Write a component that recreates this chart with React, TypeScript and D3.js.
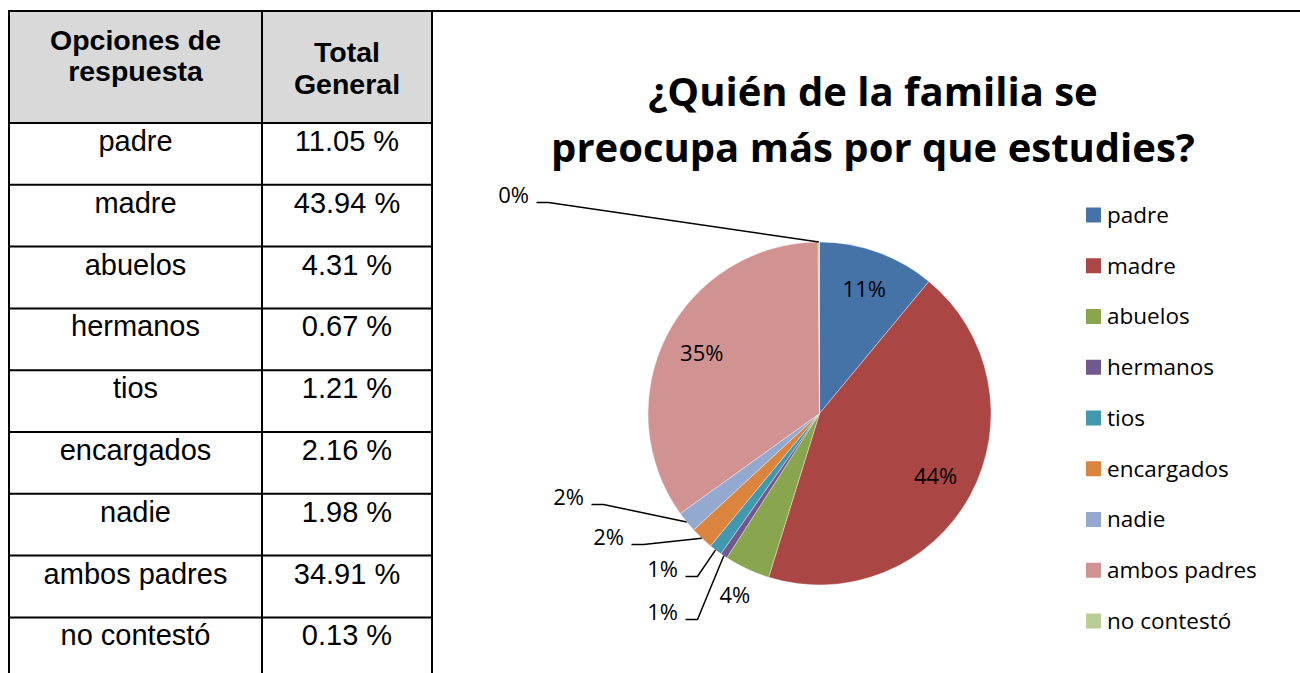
import React from "react";
import * as d3 from "d3";

const categories = ["padre", "madre", "abuelos", "hermanos", "tios", "encargados", "nadie", "ambos padres", "no contestó"];
const values = [11.05, 43.94, 4.31, 0.67, 1.21, 2.16, 1.98, 34.91, 0.13];
const tableValues = ["11.05 %", "43.94 %", "4.31 %", "0.67 %", "1.21 %", "2.16 %", "1.98 %", "34.91 %", "0.13 %"];
const pieLabels = ["11%", "44%", "4%", "1%", "1%", "2%", "2%", "35%", "0%"];
const colors = ["#4572A7", "#AA4643", "#89A54E", "#71588F", "#4198AF", "#DB843D", "#93A9CF", "#D19392", "#B9CD96"];
const headerCol1 = ["Opciones de", "respuesta"];
const headerCol2 = ["Total", "General"];
const titleLines = ["¿Quién de la familia se", "preocupa más por que estudies?"];

// label placement: "in" = inside at fraction of radius, "out" = outside without line, "lead" = offset label with leader
const labelMode = ["in", "in", "out", "lead", "lead", "lead", "lead", "in", "lead"];
const leadOffsets: Record<number, [number, number]> = {
  3: [-157, 199],
  4: [-157, 156],
  5: [-211, 124],
  6: [-251, 84],
  8: [-306, -218],
};

export default function App() {
  const W = 1300, H = 673;
  const tX0 = 9, tX1 = 262, tX2 = 432;
  const tY0 = 11, headerBottom = 123, rowH = 61.8;

  const cx = 819.5, cy = 413.5, r = 171.5;
  const pie = d3.pie<number>().sort(null).value((d) => d);
  const arcs = pie(values);
  const arc = d3.arc<d3.PieArcDatum<number>>().innerRadius(0).outerRadius(r);
  const polar = (a: number, rr: number): [number, number] => [Math.sin(a) * rr, -Math.cos(a) * rr];

  const tableFont = "'Liberation Sans', Arial, sans-serif";
  const chartFont = "'Open Sans', sans-serif";

  const legendY = d3.scaleLinear().domain([0, 8]).range([215, 621]);

  return (
    <svg width={W} height={H} style={{ position: "absolute", left: 0, top: 0 }} xmlns="http://www.w3.org/2000/svg">
      <rect x={0} y={0} width={W} height={H} fill="#fff" />
      {/* table header background */}
      <rect x={tX0} y={tY0} width={tX2 - tX0} height={headerBottom - tY0} fill="#d9d9d9" />
      {/* header text */}
      {headerCol1.map((t, i) => (
        <text key={"h1" + i} x={(tX0 + tX1) / 2} y={50 + i * 31} textAnchor="middle" fontFamily={tableFont} fontWeight="bold" fontSize={28.5}>{t}</text>
      ))}
      {headerCol2.map((t, i) => (
        <text key={"h2" + i} x={(tX1 + tX2) / 2} y={62 + i * 32} textAnchor="middle" fontFamily={tableFont} fontWeight="bold" fontSize={28.5}>{t}</text>
      ))}
      {/* rows */}
      {categories.map((c, i) => {
        const y0 = headerBottom + i * rowH;
        return (
          <g key={c}>
            <text x={(tX0 + tX1) / 2} y={y0 + 28} textAnchor="middle" fontFamily={tableFont} fontSize={29}>{c}</text>
            <text x={(tX1 + tX2) / 2} y={y0 + 28} textAnchor="middle" fontFamily={tableFont} fontSize={29}>{tableValues[i]}</text>
            {i > 0 && <line x1={tX0} x2={tX2} y1={y0} y2={y0} stroke="#000" strokeWidth={2} />}
          </g>
        );
      })}
      <line x1={tX0} x2={tX2} y1={headerBottom} y2={headerBottom} stroke="#000" strokeWidth={2} />
      {/* borders */}
      <line x1={tX0 - 1} x2={W} y1={tY0} y2={tY0} stroke="#000" strokeWidth={2} />
      <line x1={tX0} x2={tX0} y1={tY0} y2={H} stroke="#000" strokeWidth={2} />
      <line x1={tX1} x2={tX1} y1={tY0} y2={H} stroke="#000" strokeWidth={2} />
      <line x1={tX2} x2={tX2} y1={tY0} y2={H} stroke="#000" strokeWidth={2} />

      {/* title */}
      {titleLines.map((t, i) => (
        <text key={t} x={873} y={106 + i * 56} textAnchor="middle" fontFamily={chartFont} fontWeight="bold" fontSize={40}>{t}</text>
      ))}

      {/* pie */}
      <g transform={`translate(${cx},${cy})`}>
        {arcs.map((a, i) => (
          <path key={i} d={arc(a) || ""} fill={colors[i]} stroke="#fff" strokeWidth={0.6} strokeOpacity={0.6} />
        ))}
        {arcs.map((a, i) => {
          const mid = (a.startAngle + a.endAngle) / 2;
          const mode = labelMode[i];
          if (mode === "in" || mode === "out") {
            const [x, y] = polar(mid, mode === "in" ? r * 0.77 : r * 1.17);
            return (
              <text key={"l" + i} x={x} y={y} dy="0.35em" textAnchor="middle" fontFamily={chartFont} fontSize={22}>{pieLabels[i]}</text>
            );
          }
          const [lx, ly] = leadOffsets[i];
          const [px, py] = polar(mid, r);
          const sx = lx + 23;
          const lineY = ly + 7;
          return (
            <g key={"l" + i}>
              <path d={`M${sx},${lineY}H${sx + 12}L${px},${py}`} fill="none" stroke="#000" strokeWidth={1.5} />
              <text x={lx} y={ly} dy="0.35em" textAnchor="middle" fontFamily={chartFont} fontSize={22}>{pieLabels[i]}</text>
            </g>
          );
        })}
      </g>

      {/* legend */}
      {categories.map((c, i) => (
        <g key={"lg" + i} transform={`translate(1086,${legendY(i)})`}>
          <rect x={0} y={-7.5} width={15} height={15} fill={colors[i]} />
          <text x={21} y={0} dy="0.35em" fontFamily={chartFont} fontSize={22.5}>{c}</text>
        </g>
      ))}
    </svg>
  );
}
